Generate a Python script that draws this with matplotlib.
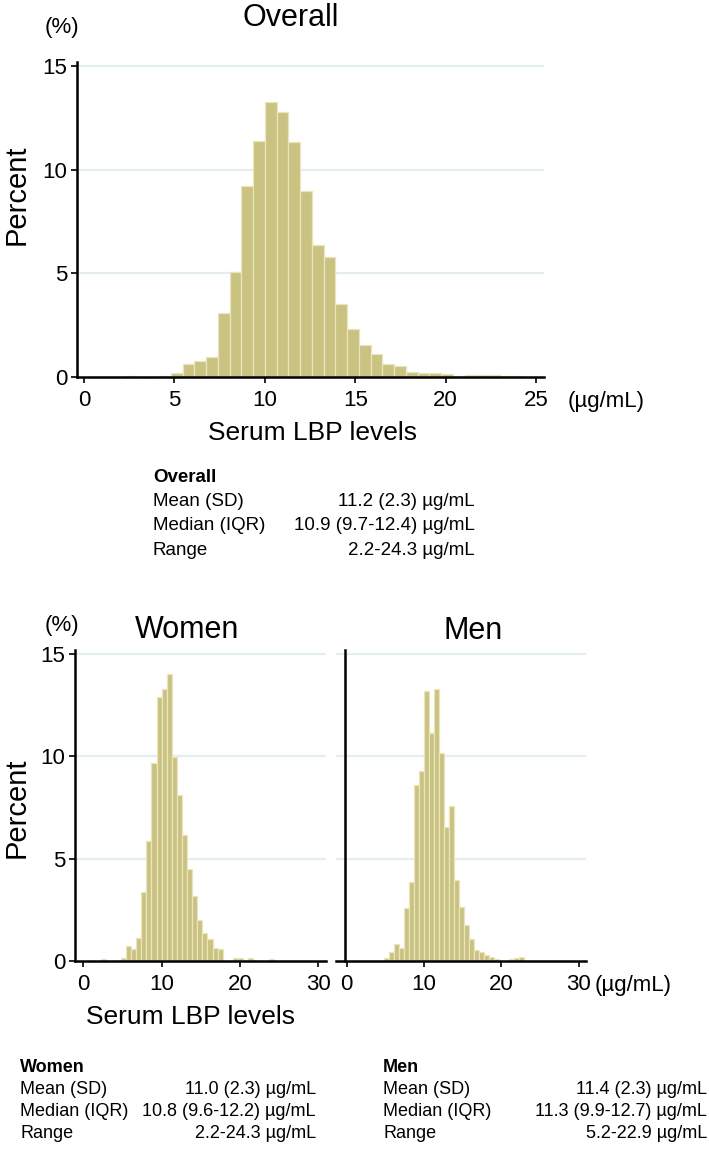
import numpy as np
import matplotlib
matplotlib.use('Agg')
from matplotlib import pyplot as plt

plt.rcParams['font.family'] = ['Liberation Sans', 'DejaVu Sans']

# common histogram bins (34 bins over 2.2-24.3 ug/mL)
bin_lo = 2.2
bin_hi = 24.3
n_bins = 34

# percent per bin
overall_pct = [0.05, 0.0, 0.02, 0.04, 0.19, 0.64, 0.75, 0.96, 3.08, 5.06,
               9.22, 11.38, 13.28, 12.8, 11.36, 8.98, 6.35, 5.79, 3.51, 2.31,
               1.53, 1.10, 0.64, 0.54, 0.26, 0.19, 0.17, 0.14, 0.05, 0.10,
               0.10, 0.08, 0.03, 0.05]
women_pct = [0.08, 0.0, 0.0, 0.05, 0.13, 0.75, 0.59, 1.14, 3.37, 5.88,
             9.66, 12.92, 13.3, 14.02, 9.97, 8.10, 6.14, 4.49, 3.19, 2.01,
             1.36, 1.08, 0.62, 0.59, 0.0, 0.02, 0.13, 0.13, 0.03, 0.13,
             0.05, 0.0, 0.0, 0.08]
men_pct = [0.0, 0.0, 0.0, 0.0, 0.16, 0.46, 0.83, 0.62, 2.61, 3.86,
           8.59, 9.31, 13.2, 11.16, 13.28, 10.16, 6.55, 7.57, 3.94, 2.66,
           1.76, 1.06, 0.54, 0.46, 0.29, 0.18, 0.08, 0.0, 0.0, 0.08,
           0.13, 0.20, 0.0, 0.0]

yticks = [0, 5, 10, 15]
top_xticks = [0, 5, 10, 15, 20, 25]
bot_xticks = [0, 10, 20, 30]

stat_rows = ['Mean (SD)', 'Median (IQR)', 'Range']
overall_stats = ['11.2 (2.3) µg/mL', '10.9 (9.7-12.4) µg/mL', '2.2-24.3 µg/mL']
women_stats = ['11.0 (2.3) µg/mL', '10.8 (9.6-12.2) µg/mL', '2.2-24.3 µg/mL']
men_stats = ['11.4 (2.3) µg/mL', '11.3 (9.9-12.7) µg/mL', '5.2-22.9 µg/mL']

W, H = 709, 1158
bar_fc = '#c9c281'
bar_ec = '#e9e5bd'
grid_c = '#e4edef'

edges = np.linspace(bin_lo, bin_hi, n_bins + 1)
bw = edges[1] - edges[0]

fig = plt.figure(figsize=(W / 100, H / 100), dpi=100)


def px_axes(x0, y0, x1, y1):
    return fig.add_axes([x0 / W, 1 - y1 / H, (x1 - x0) / W, (y1 - y0) / H])


def ftext(x, y, s, **kw):
    fig.text(x / W, 1 - y / H, s, **kw)


def style_hist(ax, pct, xlim, xticks, ylab=True):
    ax.bar(edges[:-1], pct, width=bw, align='edge', color=bar_fc,
           edgecolor=bar_ec, linewidth=0.9, zorder=2)
    ax.set_xlim(*xlim)
    ax.set_ylim(0, 15.2)
    ax.set_yticks(yticks)
    ax.set_xticks(xticks)
    for v in yticks[1:]:
        ax.axhline(v, color=grid_c, lw=1.6, zorder=1)
    for s in ['top', 'right']:
        ax.spines[s].set_visible(False)
    ax.spines['left'].set_linewidth(1.8)
    ax.spines['bottom'].set_linewidth(1.8)
    ax.tick_params(axis='both', direction='out', length=4, width=1.2,
                   labelsize=16, colors='black')
    ax.tick_params(axis='x', pad=5)
    ax.tick_params(axis='y', pad=3)
    if not ylab:
        ax.tick_params(axis='y', left=False, labelleft=False)


# ---- overall ----
ax1 = px_axes(77, 62, 544, 377)
style_hist(ax1, overall_pct, (-0.39, 25.44), top_xticks)
ftext(62, 27, '(%)', fontsize=16, ha='center', va='center')
ftext(291, 18, 'Overall', fontsize=22, ha='center', va='center')
ftext(17, 195, 'Percent', fontsize=21, rotation=90, ha='center', va='center')
ftext(606, 402, '(µg/mL)', fontsize=16, ha='center', va='center')
ftext(312, 433, 'Serum LBP levels', fontsize=19, ha='center', va='center')

ftext(153, 477, 'Overall', fontsize=13.5, fontweight='bold', va='center')
for i, (lab, val) in enumerate(zip(stat_rows, overall_stats)):
    ftext(153, 502 + 24 * i, lab, fontsize=13.5, va='center')
    ftext(475, 502 + 24 * i, val, fontsize=13.5, va='center', ha='right')

# ---- women / men ----
ax2 = px_axes(75, 650, 326, 961)
style_hist(ax2, women_pct, (-1.06, 30.98), bot_xticks)
ax3 = px_axes(336, 650, 586, 961)
style_hist(ax3, men_pct, (-1.37, 30.96), bot_xticks, ylab=False)
ax3.spines['left'].set_position(('data', -0.2))

ftext(62, 626, '(%)', fontsize=16, ha='center', va='center')
ftext(187, 630, 'Women', fontsize=22, ha='center', va='center')
ftext(473, 631, 'Men', fontsize=22, ha='center', va='center')
ftext(17, 808, 'Percent', fontsize=21, rotation=90, ha='center', va='center')
ftext(633, 986, '(µg/mL)', fontsize=16, ha='center', va='center')
ftext(190, 1017, 'Serum LBP levels', fontsize=19, ha='center', va='center')

for x0, x1, title, stats in [(20, 316, 'Women', women_stats),
                             (383, 707, 'Men', men_stats)]:
    ftext(x0, 1068, title, fontsize=13, fontweight='bold', va='center')
    for i, (lab, val) in enumerate(zip(stat_rows, stats)):
        ftext(x0, 1090 + 21.5 * i, lab, fontsize=13, va='center')
        ftext(x1, 1090 + 21.5 * i, val, fontsize=13, va='center', ha='right')

fig.savefig('out.png', dpi=100)
